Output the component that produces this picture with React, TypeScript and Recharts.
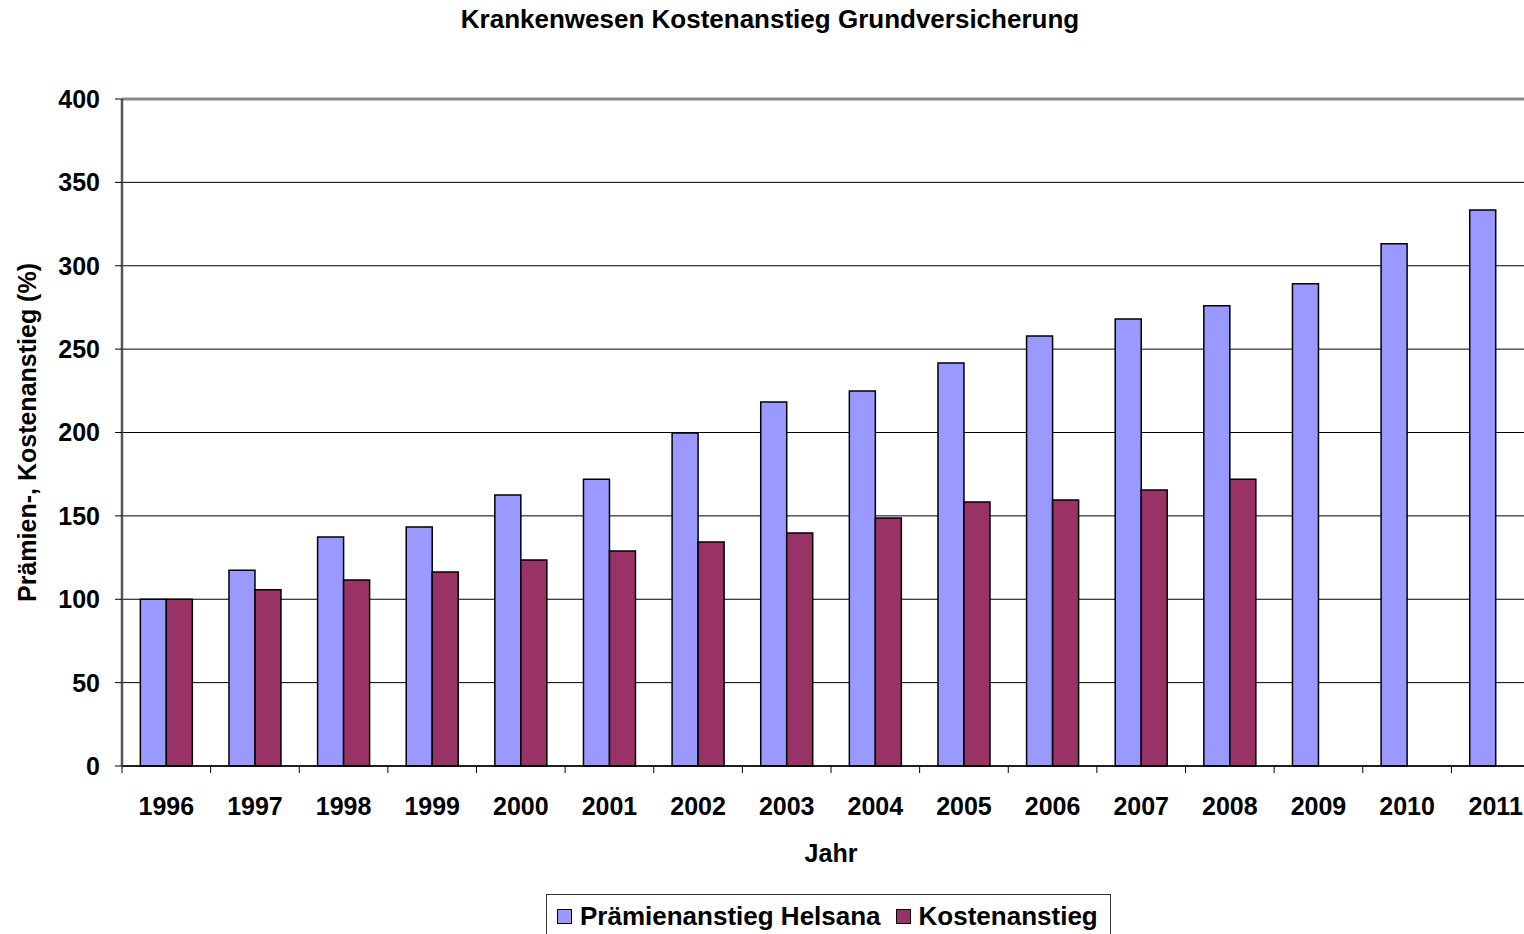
import React from "react"
import {
  BarChart,
  Bar,
  XAxis,
  YAxis,
  CartesianGrid,
  Legend,
  ReferenceLine,
  Label
} from "recharts"

const years = ["1996", "1997", "1998", "1999", "2000", "2001", "2002", "2003", "2004", "2005", "2006", "2007", "2008", "2009", "2010", "2011"]
const praemien = [100, 117.4, 137.3, 143.3, 162.5, 172, 199.7, 218.3, 224.9, 241.7, 257.9, 268, 276, 289.2, 313.2, 333.4]
const kosten: (number | null)[] = [100, 105.7, 111.5, 116.3, 123.5, 129, 134.3, 139.7, 148.7, 158.3, 159.5, 165.5, 172, null, null, null]
const yTicks = [0, 50, 100, 150, 200, 250, 300, 350, 400]

const FONT = '"Liberation Sans", Arial, Helvetica, sans-serif'

const CHART_W = 1540
const CHART_H = 934
const Y_AXIS_W = 122
const BAND = (CHART_W - Y_AXIS_W) / years.length

const data = years.map((y, i) => ({
  year: y,
  praemien: praemien[i],
  kosten: kosten[i]
}))

// Jahres-Tick: Strich an der Kategoriengrenze, Text in der Mitte
function YearTick(props: any) {
  const { x, y, payload, index } = props
  const left = x - BAND / 2
  return (
    <g>
      <line x1={left} y1={y} x2={left} y2={y + 7} stroke="#000" strokeWidth={1} />
      {index === years.length - 1 && (
        <line x1={x + BAND / 2} y1={y} x2={x + BAND / 2} y2={y + 7} stroke="#000" strokeWidth={1} />
      )}
      <text x={x} y={y + 49} textAnchor="middle" fill="#000" fontSize={25} fontWeight="bold" fontFamily={FONT}>
        {payload.value}
      </text>
    </g>
  )
}

function LegendBox() {
  const items = [
    { name: "Prämienanstieg Helsana", color: "#9999FF" },
    { name: "Kostenanstieg", color: "#993366" }
  ]
  return (
    <div
      style={{
        border: "1px solid #333",
        display: "flex",
        alignItems: "center",
        padding: "6px 12px 10px 10px",
        background: "#fff",
        fontFamily: FONT,
        fontWeight: "bold",
        fontSize: 26,
        color: "#000",
        whiteSpace: "nowrap"
      }}
    >
      {items.map((it, i) => (
        <span key={it.name} style={{ display: "flex", alignItems: "center", marginLeft: i > 0 ? 15 : 0 }}>
          <span
            style={{
              display: "inline-block",
              width: 13,
              height: 13,
              background: it.color,
              border: "1px solid #000",
              marginRight: 8
            }}
          />
          {it.name}
        </span>
      ))}
    </div>
  )
}

export default function App() {
  return (
    <div style={{ position: "absolute", left: 0, top: 0, width: 1524, height: 934, overflow: "hidden", background: "#fff" }}>
      <div
        style={{
          position: "absolute",
          top: 5,
          left: 0,
          width: CHART_W,
          textAlign: "center",
          fontFamily: FONT,
          fontWeight: "bold",
          fontSize: 26,
          lineHeight: "28px",
          color: "#000",
          zIndex: 2
        }}
      >
        Krankenwesen Kostenanstieg Grundversicherung
      </div>
      <BarChart
        width={CHART_W}
        height={CHART_H}
        data={data}
        margin={{ top: 99, right: 0, left: 0, bottom: 68 }}
        barCategoryGap="20.7%"
        barGap={0}
      >
        <CartesianGrid horizontal vertical={false} stroke="#000" strokeWidth={1} />
        <XAxis
          dataKey="year"
          height={100}
          tickSize={0}
          tickMargin={0}
          tick={<YearTick />}
          interval={0}
          axisLine={{ stroke: "#000", strokeWidth: 1.5 }}
          tickLine={false}
        >
          <Label
            value="Jahr"
            position="insideBottom"
            offset={4}
            fill="#000"
            fontSize={25}
            fontWeight="bold"
            fontFamily={FONT}
          />
        </XAxis>
        <YAxis
          width={Y_AXIS_W}
          domain={[0, 400]}
          ticks={yTicks}
          interval={0}
          tickSize={7}
          tickMargin={15}
          axisLine={{ stroke: "#555", strokeWidth: 2.5 }}
          tickLine={{ stroke: "#000" }}
          tick={{ fill: "#000", fontSize: 25, fontWeight: "bold", fontFamily: FONT }}
        >
          <Label
            value="Prämien-, Kostenanstieg (%)"
            angle={-90}
            position="insideLeft"
            offset={27}
            style={{ textAnchor: "middle" }}
            fill="#000"
            fontSize={25}
            fontWeight="bold"
            fontFamily={FONT}
          />
        </YAxis>
        <ReferenceLine y={400} stroke="#888" strokeWidth={3} />
        <Legend
          layout="horizontal"
          verticalAlign="middle"
          align="center"
          wrapperStyle={{ left: 546, top: 894, width: "auto" }}
          content={() => <LegendBox />}
        />
        <Bar dataKey="praemien" name="Prämienanstieg Helsana" fill="#9999FF" stroke="#000" strokeWidth={1.5} isAnimationActive={false} />
        <Bar dataKey="kosten" name="Kostenanstieg" fill="#993366" stroke="#000" strokeWidth={1.5} isAnimationActive={false} />
      </BarChart>
    </div>
  )
}
